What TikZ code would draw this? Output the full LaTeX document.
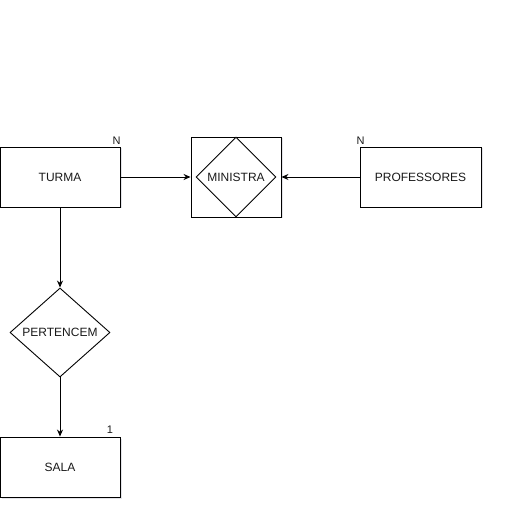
\documentclass[tikz,border=0pt]{standalone}
\usepackage{fontspec}
\setmainfont{Liberation Sans}
\usepackage{xcolor}
\usetikzlibrary{shapes.geometric,arrows.meta,shadows}
\definecolor{line}{HTML}{000000}
\definecolor{shade}{HTML}{C8CAD4}
\definecolor{ink}{HTML}{1A1A1A}
\tikzset{
  entity/.style={draw=line, line width=0.9pt, fill=white, minimum width=120pt, minimum height=60pt,
    inner sep=0pt, text=ink, font=\fontsize{12}{14}\selectfont, drop shadow={shadow xshift=1.5pt, shadow yshift=-1.5pt, fill=shade}},
  rel/.style={draw=line, line width=0.9pt, fill=white, diamond, inner sep=0pt, text=ink, font=\fontsize{12}{14}\selectfont},
  card/.style={text=ink, font=\fontsize{11}{13}\selectfont, inner sep=0pt},
  link/.style={line width=0.9pt, draw=line, -{Stealth[length=7pt,width=6pt]}},
}
\begin{document}
\begin{tikzpicture}[x=1pt,y=-1pt]
  \useasboundingbox (0,0) rectangle (518,510);

  % entities
  \node[entity] (turma) at (60,177) {TURMA};
  \node[entity, minimum width=121pt] (prof) at (420.5,177) {PROFESSORES};
  \node[entity] (sala) at (60,467) {SALA};

  % associative entity
  \node[entity, minimum width=90pt, minimum height=80pt] (ministraBox) at (236,177) {};
  \node[rel, minimum width=80pt, minimum height=80pt] (ministra) at (236,177) {MINISTRA};

  % relationship
  \node[rel, minimum width=100pt, minimum height=89pt, aspect=1.12] (pertencem) at (60,332.5) {PERTENCEM};

  % cardinalities
  \node[card] (cTurma) at (116.5,140.5) {N};
  \node[card] (cProf) at (360.5,140.5) {N};
  \node[card] (cSala) at (110,430) {1};

  \draw[link] (turma.east) -- (ministraBox.west);
  \draw[link] (prof.west) -- (ministraBox.east);
  \draw[link] (turma.south) -- (pertencem.north);
  \draw[link] (pertencem.south) -- (sala.north);
\end{tikzpicture}
\end{document}
